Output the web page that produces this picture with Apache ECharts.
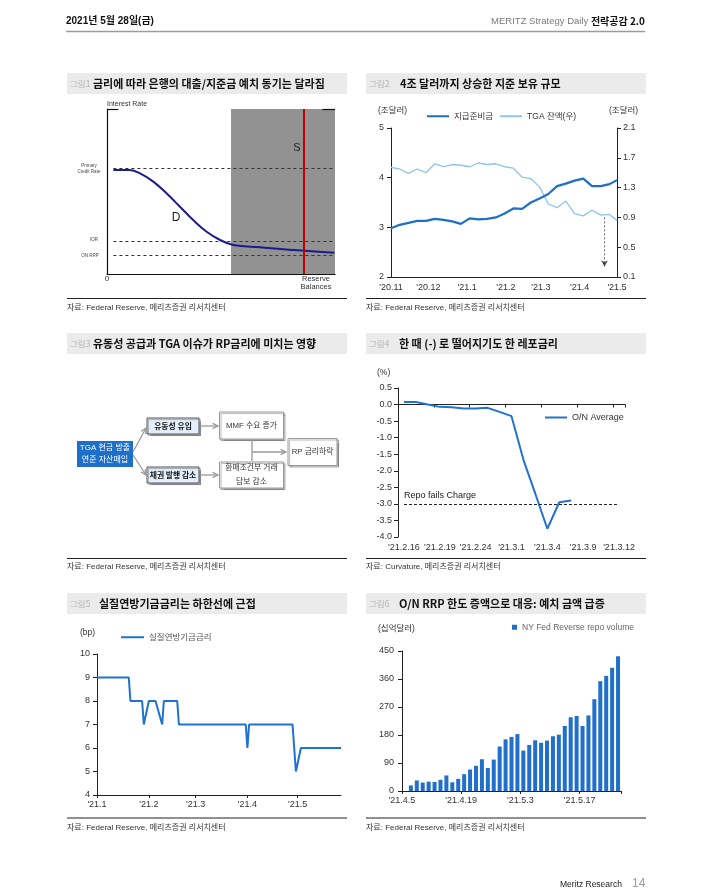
<!DOCTYPE html>
<html><head><meta charset="utf-8">
<script src="https://cdn.jsdelivr.net/npm/echarts@6/dist/echarts.min.js"></script>
<style>html,body{margin:0;padding:0;background:#fff}#c{width:709px;height:895px}</style>
</head><body><div id="c"></div>
<script>
// ---------- DATA ----------
// Fig1 (conceptual demand curve, axis units 0-100)
const p1CurveX = [2.8, 10, 14.5, 20.3, 26.1, 32, 37.8, 43.7, 49.6, 55.4, 67.1, 81.7, 99.7];
const p1CurveY = [63, 63, 61, 56, 48.9, 40.8, 32.7, 25.6, 20.6, 17.6, 16.2, 14.5, 12.9];
const p1Levels = [63.8, 20.0, 11.1];          // Primary credit rate, IOR, ON RRP
const p1ShadeStart = 54.4;
const p1SupplyX = 86.5;

// Fig2
const p2Dates = ['2020-11-01','2020-11-08','2020-11-15','2020-11-22','2020-11-29','2020-12-06','2020-12-13','2020-12-20','2020-12-27','2021-01-03','2021-01-10','2021-01-17','2021-01-24','2021-01-31','2021-02-07','2021-02-14','2021-02-21','2021-02-28','2021-03-07','2021-03-14','2021-03-21','2021-03-28','2021-04-04','2021-04-11','2021-04-18','2021-04-25','2021-05-01'];
const p2Reserves = [2.98,3.05,3.09,3.13,3.13,3.17,3.15,3.12,3.07,3.18,3.16,3.17,3.20,3.28,3.38,3.37,3.50,3.58,3.67,3.83,3.88,3.94,3.98,3.83,3.83,3.87,3.95];
const p2TGA = [1.57,1.55,1.49,1.55,1.50,1.62,1.58,1.61,1.60,1.58,1.63,1.61,1.62,1.58,1.56,1.44,1.42,1.31,1.08,1.03,1.12,0.95,0.92,1.00,0.93,0.94,0.86];

// Fig4
const p4Dates = ['2021-02-16','2021-02-17','2021-02-18','2021-02-19','2021-02-22','2021-02-23','2021-02-24','2021-02-25','2021-02-26','2021-03-01','2021-03-02','2021-03-03','2021-03-04','2021-03-05','2021-03-08','2021-03-09','2021-03-10','2021-03-11','2021-03-12'];
const p4Rate = [0.08,0.08,0.0,-0.07,-0.08,-0.12,-0.12,-0.10,-0.22,-0.35,-1.67,-2.70,-3.75,-2.95,-2.90,null,null,null,null];
const p4FailsCharge = -3.0;

// Fig5
const p5Dates = ['2021-01-01','2021-01-20','2021-01-21','2021-01-28','2021-01-29','2021-02-01','2021-02-05','2021-02-09','2021-02-10','2021-02-18','2021-02-19','2021-03-31','2021-04-01','2021-04-02','2021-04-28','2021-04-30','2021-05-03','2021-05-27'];
const p5Rate = [9,9,8,8,7,8,8,7,8,8,7,7,6,7,7,5,6,6];

// Fig6
const p6Dates = ['2021-04-05','2021-04-06','2021-04-07','2021-04-08','2021-04-09','2021-04-12','2021-04-13','2021-04-14','2021-04-15','2021-04-16','2021-04-19','2021-04-20','2021-04-21','2021-04-22','2021-04-23','2021-04-26','2021-04-27','2021-04-28','2021-04-29','2021-04-30','2021-05-03','2021-05-04','2021-05-05','2021-05-06','2021-05-07','2021-05-10','2021-05-11','2021-05-12','2021-05-13','2021-05-14','2021-05-17','2021-05-18','2021-05-19','2021-05-20','2021-05-21','2021-05-24','2021-05-25'];
const p6Volume = [null,18,34,27,30,29,36,50,28,39,54,69,81,102,74,101,143,166,174,183,130,148,163,155,162,176,181,209,237,241,209,243,295,353,370,396,433];

// ---------- HELPERS ----------
const FONT = '"Liberation Sans", Arial, "Noto Sans CJK KR", sans-serif';
const KFONT = '"Noto Sans CJK KR", "Liberation Sans", sans-serif';
function T(x, y, text, o) {
  o = o || {};
  const size = o.size || 8.5, weight = o.bold ? 'bold ' : '';
  return { type: 'text', x: x, y: y, z: 10, silent: true,
    style: { text: text, font: weight + size + 'px ' + (o.family || FONT), fill: o.color || '#222',
      align: o.align || 'left', textAlign: o.align || 'left', verticalAlign: 'middle', textVerticalAlign: 'middle' } };
}
function L(x1, y1, x2, y2, color, w, dash) {
  return { type: 'line', z: 5, silent: true, shape: { x1: x1, y1: y1, x2: x2, y2: y2 },
    style: { stroke: color, lineWidth: w || 1, lineDash: dash || null } };
}
function R(x, y, w, h, fill, stroke, shadow) {
  const st = { fill: fill, stroke: stroke || null, lineWidth: 1 };
  if (shadow) { st.shadowColor = 'rgba(0,0,0,0.3)'; st.shadowBlur = 1; st.shadowOffsetX = 1.5; st.shadowOffsetY = 1.5; }
  return { type: 'rect', z: 4, silent: true, shape: { x: x, y: y, width: w, height: h }, style: st };
}
function arrow(x1, y1, x2, y2) {
  const a = Math.atan2(y2 - y1, x2 - x1), len = 6, sp = 0.45;
  return [L(x1, y1, x2, y2, '#9a9a9a', 1.3),
    { type: 'polyline', z: 5, silent: true, shape: { points: [
      [x2 - len * Math.cos(a - sp), y2 - len * Math.sin(a - sp)], [x2, y2],
      [x2 - len * Math.cos(a + sp), y2 - len * Math.sin(a + sp)]] },
      style: { stroke: '#9a9a9a', lineWidth: 1.3, fill: null } }];
}
function monthFmt(v) {
  const d = new Date(v);
  if (d.getDate() !== 1) return '';
  return "'" + String(d.getFullYear()).slice(2) + '.' + (d.getMonth() + 1);
}
function dayFmt(s) {
  const p = s.split('-');
  return "'" + p[0].slice(2) + '.' + (+p[1]) + '.' + (+p[2]);
}
const zip = (a, b) => a.map((v, i) => [v, b[i]]);

const axLine = { show: true, lineStyle: { color: '#222', width: 1 } };
const lab = { fontSize: 9, color: '#333', fontFamily: FONT };

// ---------- GRAPHICS (page frame, titles, diagram) ----------
const g = [];
g.push(T(66, 21, '2021년 5월 28일(금)', { bold: true, size: 10, color: '#111' }));
g.push({ type: 'text', x: 645, y: 21, z: 10, silent: true, style: {
  text: '{a|MERITZ Strategy Daily }{b|전략공감 2.0}', align: 'right', textAlign: 'right', verticalAlign: 'middle', textVerticalAlign: 'middle',
  rich: { a: { fill: '#7a7a7a', fontSize: 9.5, fontFamily: FONT },
          b: { fill: '#111', fontSize: 10, fontWeight: 'bold', fontFamily: KFONT } } } });
g.push(L(66, 31.5, 645, 31.5, '#9c9c9c', 1.3));

const titles = [
  [67, 73, '그림1', 93, '금리에 따라 은행의 대출/지준금 예치 동기는 달라짐'],
  [366, 73, '그림2', 400, '4조 달러까지 상승한 지준 보유 규모'],
  [67, 333, '그림3', 93, '유동성 공급과 TGA 이슈가 RP금리에 미치는 영향'],
  [366, 333, '그림4', 399, '한 때 (-) 로 떨어지기도 한 레포금리'],
  [67, 593, '그림5', 99, '실질연방기금금리는 하한선에 근접'],
  [366, 593, '그림6', 399, 'O/N RRP 한도 증액으로 대응: 예치 금액 급증']
];
titles.forEach(t => {
  g.push(R(t[0], t[1], 280, 21, '#ebebeb'));
  g.push(T(t[0] + 3, t[1] + 11, t[2], { size: 8.5, color: '#b4b4b4', family: KFONT }));
  g.push(T(t[3], t[1] + 11, t[4], { size: 11, bold: true, color: '#111', family: KFONT }));
});
const sources = [
  [67, 298.5, 308, '자료: Federal Reserve, 메리츠증권 리서치센터'],
  [366, 298.5, 308, '자료: Federal Reserve, 메리츠증권 리서치센터'],
  [67, 558.5, 567, '자료: Federal Reserve, 메리츠증권 리서치센터'],
  [366, 558.5, 567, '자료: Curvature, 메리츠증권 리서치센터'],
  [67, 818, 828, '자료: Federal Reserve, 메리츠증권 리서치센터'],
  [366, 818, 828, '자료: Federal Reserve, 메리츠증권 리서치센터']
];
sources.forEach(s => {
  g.push(L(s[0], s[1], s[0] + 280, s[1], '#222', 1));
  g.push(T(s[0], s[2], s[3], { size: 8, color: '#333' }));
});
g.push(T(560, 885, 'Meritz Research', { size: 8.5, color: '#222' }));
g.push(T(632, 884, '14', { size: 12, color: '#9a9a9a' }));

// Fig1 annotations
g.push(T(107, 104, 'Interest Rate', { size: 7, color: '#333' }));
g.push(T(107, 279, '0', { size: 8, align: 'center', color: '#333' }));
g.push(T(316, 279, 'Reserve', { size: 7.5, align: 'center', color: '#333' }));
g.push(T(316, 287, 'Balances', { size: 7.5, align: 'center', color: '#333' }));
g.push(T(89, 166, 'Primary', { size: 4.5, align: 'center', color: '#444' }));
g.push(T(89, 172, 'Credit Rate', { size: 4.5, align: 'center', color: '#444' }));
g.push(T(94, 240, 'IOR', { size: 4.5, align: 'center', color: '#444' }));
g.push(T(90, 256, 'ON RRP', { size: 4.5, align: 'center', color: '#444' }));
g.push(T(297, 148, 'S', { size: 11, align: 'center', color: '#222' }));
g.push(T(176, 218, 'D', { size: 12, align: 'center', color: '#222' }));

// unit labels
g.push(T(378, 111, '(조달러)', { size: 8.5, color: '#333' }));
g.push(T(609, 111, '(조달러)', { size: 8.5, color: '#333' }));
g.push(T(377, 373, '(%)', { size: 8.5, color: '#333' }));
g.push(T(80, 633, '(bp)', { size: 8.5, color: '#333' }));
g.push(T(378, 629, '(십억달러)', { size: 8.5, color: '#333' }));

// Fig3 flow diagram
g.push(R(77, 441, 56, 26, '#1e6fca'));
g.push(T(105, 447.5, 'TGA 현금 방출', { size: 8, color: '#fff', align: 'center' }));
g.push(T(105, 460, '연준 자산매입', { size: 8, color: '#fff', align: 'center' }));
g.push(R(147, 418, 52, 16, '#e4eefa', '#555', true));
g.push(T(173, 426, '유동성 유입', { size: 7.8, bold: true, align: 'center', color: '#111', family: KFONT }));
g.push(R(147, 467, 52, 16, '#e4eefa', '#555', true));
g.push(T(173, 475, '채권 발행 감소', { size: 7.8, bold: true, align: 'center', color: '#111', family: KFONT }));
g.push(R(219.5, 412, 64, 27, '#fff', '#999', true));
g.push(T(251.5, 426, 'MMF 수요 증가', { size: 7.8, align: 'center', color: '#333' }));
g.push(R(219.5, 462, 64, 26, '#fff', '#999', true));
g.push(T(251.5, 468, '환매조건부 거래', { size: 7.8, align: 'center', color: '#333' }));
g.push(T(251.5, 481.5, '담보 감소', { size: 7.8, align: 'center', color: '#333' }));
g.push(R(288, 438.5, 49, 27, '#fff', '#999', true));
g.push(T(312.5, 452, 'RP 금리하락', { size: 7.8, align: 'center', color: '#333' }));
arrow(133, 452, 146, 428).forEach(e => g.push(e));
arrow(133, 455, 146, 475).forEach(e => g.push(e));
arrow(200, 426, 218, 426).forEach(e => g.push(e));
arrow(200, 475, 218, 475).forEach(e => g.push(e));
g.push(L(252, 440, 252, 461, '#9a9a9a', 1.3));
arrow(252, 452, 286, 452).forEach(e => g.push(e));

// ---------- CHART ----------
const chart = echarts.init(document.getElementById('c'), null, { renderer: 'canvas' });
const dashedBlack = { color: '#333', type: [3, 3], width: 1 };
const lgText = (c) => ({ fontSize: 8.5, color: c, fontFamily: FONT });
chart.setOption({
  animation: false,
  textStyle: { fontFamily: FONT },
  grid: [
    { left: 107, top: 109, width: 228, height: 165 },
    { left: 391, top: 128, width: 226, height: 149 },
    { left: 398, top: 388, width: 227, height: 149 },
    { left: 97, top: 654, width: 244, height: 141 },
    { left: 402, top: 651, width: 219, height: 140 }
  ],
  xAxis: [
    { gridIndex: 0, type: 'value', min: 0, max: 100, axisLine: { show: true, lineStyle: { color: '#111', width: 1.2 } }, axisTick: { show: false }, axisLabel: { show: false }, splitLine: { show: false } },
    { gridIndex: 1, type: 'time', min: '2020-11-01', max: '2021-05-01', splitNumber: 6, axisLine: axLine, axisTick: { show: false }, axisLabel: Object.assign({ formatter: monthFmt, margin: 6, showMinLabel: true, showMaxLabel: true, hideOverlap: false }, lab), splitLine: { show: false }, minorTick: { show: false } },
    { gridIndex: 2, type: 'category', data: p4Dates, boundaryGap: true, position: 'bottom', axisLine: { show: false, onZero: false }, axisTick: { show: false }, axisLabel: Object.assign({ interval: 2, formatter: dayFmt, margin: 6 }, lab) },
    { gridIndex: 2, type: 'category', data: p4Dates, boundaryGap: true, position: 'bottom', axisLine: { show: true, onZero: true, lineStyle: { color: '#222' } }, axisTick: { show: true, interval: 2, length: 3, lineStyle: { color: '#222' } }, axisLabel: { show: false } },
    { gridIndex: 3, type: 'time', min: '2021-01-01', max: '2021-05-27', splitNumber: 5, axisLine: axLine, axisTick: { show: true, length: 3, lineStyle: { color: '#222' } }, axisLabel: Object.assign({ formatter: monthFmt, margin: 5, hideOverlap: false }, lab), splitLine: { show: false } },
    { gridIndex: 4, type: 'category', data: p6Dates, boundaryGap: true, position: 'bottom', axisLine: axLine, axisTick: { show: true, interval: 9, length: 3, lineStyle: { color: '#222' } }, axisLabel: { show: false } },
    { gridIndex: 4, type: 'value', position: 'bottom', min: 0, max: 37, interval: 10, axisLine: { show: false, onZero: false }, axisTick: { show: false }, splitLine: { show: false },
      axisLabel: Object.assign({ margin: 5, showMaxLabel: false, formatter: v => (v % 10 === 0 && p6Dates[v]) ? dayFmt(p6Dates[v]) : '' }, lab) }
  ],
  yAxis: [
    { gridIndex: 0, type: 'value', min: 0, max: 100, axisLine: { show: true, lineStyle: { color: '#111', width: 1.2 } }, axisTick: { show: false }, axisLabel: { show: false }, splitLine: { show: false } },
    { gridIndex: 1, type: 'value', min: 2, max: 5, interval: 1, axisLine: axLine, axisTick: { show: true, length: 4, lineStyle: { color: '#222' } }, axisLabel: Object.assign({ margin: 7 }, lab), splitLine: { show: false } },
    { gridIndex: 1, type: 'value', position: 'right', min: 0.1, max: 2.1, interval: 0.4, axisLine: axLine, axisTick: { show: true, length: 4, lineStyle: { color: '#222' } }, axisLabel: Object.assign({ margin: 6, formatter: v => v.toFixed(1) }, lab), splitLine: { show: false } },
    { gridIndex: 2, type: 'value', min: -4, max: 0.5, interval: 0.5, axisLine: axLine, axisTick: { show: true, length: 4, lineStyle: { color: '#222' } }, axisLabel: Object.assign({ margin: 6, formatter: v => v.toFixed(1) }, lab), splitLine: { show: false } },
    { gridIndex: 3, type: 'value', min: 4, max: 10, interval: 1, axisLine: axLine, axisTick: { show: true, length: 4, lineStyle: { color: '#222' } }, axisLabel: Object.assign({ margin: 7 }, lab), splitLine: { show: false } },
    { gridIndex: 4, type: 'value', min: 0, max: 450, interval: 90, axisLine: axLine, axisTick: { show: true, length: 4, lineStyle: { color: '#222' } }, axisLabel: Object.assign({ margin: 8 }, lab), splitLine: { show: false } }
  ],
  legend: [
    { data: ['지급준비금', 'TGA 잔액(우)'], left: 427, top: 112, padding: 0, icon: 'rect', itemWidth: 22, itemHeight: 2, itemGap: 7, textStyle: lgText('#333') },
    { data: ['O/N Average'], left: 545, top: 413, padding: 0, icon: 'rect', itemWidth: 22, itemHeight: 2, textStyle: { fontSize: 9, color: '#333', fontFamily: FONT } },
    { data: ['실질연방기금금리'], left: 121, top: 633, padding: 0, icon: 'rect', itemWidth: 23, itemHeight: 2, textStyle: lgText('#555') },
    { data: ['NY Fed Reverse repo volume'], left: 512, top: 623, padding: 0, icon: 'rect', itemWidth: 5, itemHeight: 5, itemGap: 3, textStyle: lgText('#666') }
  ],
  graphic: g,
  series: [
    { name: 'D', type: 'line', xAxisIndex: 0, yAxisIndex: 0, data: zip(p1CurveX, p1CurveY), smooth: 0.4, symbol: 'none',
      lineStyle: { color: '#1b1b8e', width: 2 }, z: 4,
      markArea: { silent: true, itemStyle: { color: '#929292' }, data: [[{ coord: [p1ShadeStart, 0] }, { coord: [100, 100] }]] },
      markLine: { silent: true, symbol: 'none', label: { show: false },
        data: p1Levels.map(v => [{ coord: [2.8, v], lineStyle: dashedBlack }, { coord: [100, v] }])
          .concat([[{ coord: [p1SupplyX, 0], lineStyle: { color: '#c00000', width: 2, type: 'solid' } }, { coord: [p1SupplyX, 100] }],
                   [{ coord: [0, 100], lineStyle: { color: '#111', width: 1.2, type: 'solid' } }, { coord: [5, 100] }],
                   [{ coord: [94.5, 100], lineStyle: { color: '#111', width: 1.2, type: 'solid' } }, { coord: [100, 100] }]]) } },
    { name: '지급준비금', type: 'line', xAxisIndex: 1, yAxisIndex: 1, data: zip(p2Dates, p2Reserves), symbol: 'none',
      color: '#1f6fc6', lineStyle: { color: '#1f6fc6', width: 2.2 }, z: 3 },
    { name: 'TGA 잔액(우)', type: 'line', xAxisIndex: 1, yAxisIndex: 2, data: zip(p2Dates, p2TGA), symbol: 'none',
      color: '#8ec4f0', lineStyle: { color: '#8ec4f0', width: 1.3 }, z: 2,
      markLine: { silent: true, symbol: ['none', 'arrow'], symbolSize: [5, 6], label: { show: false },
        lineStyle: { color: '#444', type: [2, 2], width: 0.8 },
        data: [[{ coord: ['2021-04-21', 0.9] }, { coord: ['2021-04-21', 0.24] }]] } },
    { name: 'O/N Average', type: 'line', xAxisIndex: 2, yAxisIndex: 3, data: p4Rate, symbol: 'none',
      color: '#2272d0', lineStyle: { color: '#2272d0', width: 2 },
      markLine: { silent: true, symbol: 'none', lineStyle: { color: '#222', type: [3, 2], width: 1 },
        label: { show: true, position: 'insideStartTop', formatter: 'Repo fails Charge', fontSize: 9, color: '#222', distance: [0, 4] },
        data: [[{ coord: [0, p4FailsCharge] }, { coord: [18, p4FailsCharge] }]] } },
    { name: '실질연방기금금리', type: 'line', xAxisIndex: 4, yAxisIndex: 4, data: zip(p5Dates, p5Rate), symbol: 'none',
      color: '#1f72cf', lineStyle: { color: '#1f72cf', width: 2 } },
    { name: 'NY Fed Reverse repo volume', type: 'bar', xAxisIndex: 5, yAxisIndex: 5, data: p6Volume, barWidth: 4,
      color: '#1f6fcb', itemStyle: { color: '#1f6fcb' } }
  ]
});
</script>
</body></html>
